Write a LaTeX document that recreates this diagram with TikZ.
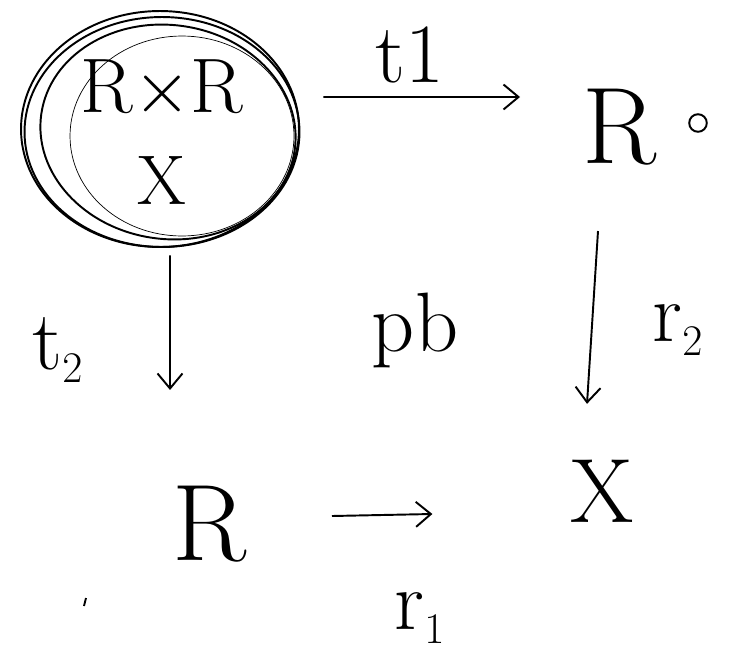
\documentclass[tikz,border=0pt]{standalone}
\usetikzlibrary{arrows.meta, positioning, shapes.geometric}

\begin{document}
\begin{tikzpicture}[x=0.02cm, y=-0.02cm, line width=1.1pt,
  arr/.style={-{Straight Barb[length=3mm, width=5mm]}},
  bigR/.style={font=\fontsize{62}{62}\selectfont, inner sep=0pt},
  lbl/.style={font=\fontsize{48}{48}\selectfont, inner sep=0pt}]
  \useasboundingbox (0,0) rectangle (733,659);

  % pullback object, circled a few times
  \node[ellipse, draw, minimum width=5.5cm, minimum height=4.6cm, align=center,
        font=\fontsize{44}{50}\selectfont] (rr) at (162,132)
        {R\scalebox{1.7}{$\times$}R\\[2pt]{\fontsize{40}{40}\selectfont X}};
  \draw (160,129) ellipse (2.78cm and 2.36cm);
  \draw[rotate around={-8:(168,132)}] (168,132) ellipse (2.56cm and 2.14cm);
  \draw[thin] (182,136) ellipse (2.24cm and 2cm);

  % the other corners
  \node[bigR] (ra) at (620,127) {R};
  \node[bigR] (rb) at (210,524) {R};
  \node[font=\fontsize{52}{52}\selectfont, inner sep=0pt] (xx) at (602,491) {X};
  \node[draw, circle, minimum size=10pt, inner sep=0pt] (dot) at (698,123) {};

  % arrows
  \draw[arr] ([xshift=0.46cm, yshift=0.7cm]rr.east) -- ([xshift=-1.24cm, yshift=0.6cm]ra.west);
  \draw[arr] ([xshift=0.16cm, yshift=-0.15cm]rr.south) -- ([xshift=-0.8cm, yshift=1.9cm]rb.north);
  \draw[arr] ([xshift=-0.44cm, yshift=-1.3cm]ra.south) -- ([xshift=-0.3cm, yshift=1.1cm]xx.north);
  \draw[arr] ([xshift=1.68cm, yshift=0.16cm]rb.east) -- ([xshift=-2.74cm, yshift=-0.46cm]xx.west);

  % labels
  \node[lbl] (t1) at (410,55) {t1};
  \node[lbl] (t2) at (58,350) {t$_2$};
  \node[lbl] (r2) at (678,330) {r$_2$};
  \node[lbl] (r1) at (420,618) {r$_1$};
  \node[lbl] (pb) at (415,330) {pb};

  % stray tick
  \draw (86,598) -- (84,606);
\end{tikzpicture}
\end{document}
